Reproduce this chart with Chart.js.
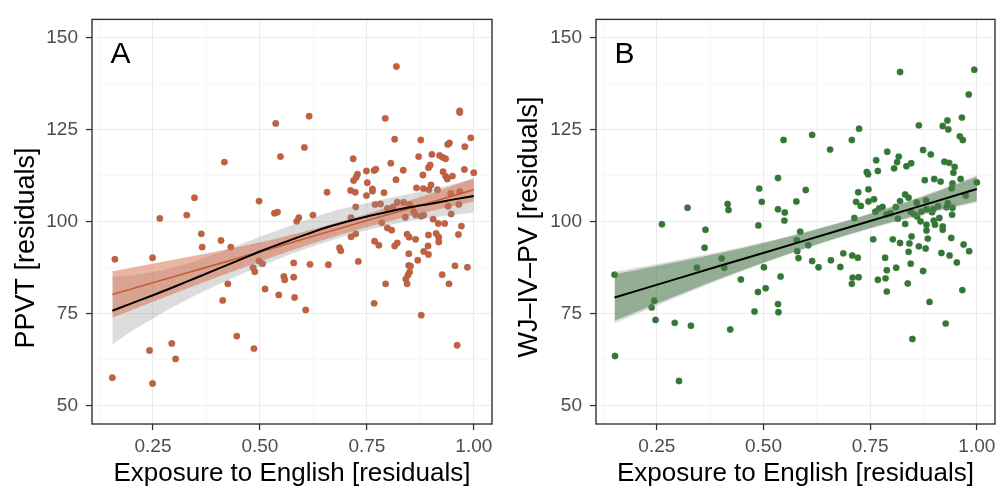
<!DOCTYPE html>
<html>
<head>
<meta charset="utf-8">
<script src="https://cdn.jsdelivr.net/npm/chart.js@4.4.1/dist/chart.umd.min.js"></script>
<style>
  body { margin: 0; background: #fff; width: 1005px; height: 489px; overflow: hidden; position: relative; }
  canvas { position: absolute; top: 0; }
  #chartA { left: 0; }
  #chartB { left: 502px; }
</style>
</head>
<body>
<canvas id="chartA" width="500" height="489"></canvas>
<canvas id="chartB" width="503" height="489"></canvas>
<script>
// panel A: PPVT vs exposure
const aX = [0.537,0.548,0.417,0.347,0.498,0.266,0.329,0.534,0.541,0.586,0.591,0.363,
  0.819,0.615,0.793,0.967,0.967,0.604,0.815,0.876,0.993,0.979,0.939,0.943,0.718,0.871,0.902,0.920,0.927,0.934,
  0.806,0.894,0.898,0.749,0.767,0.771,0.835,0.978,1.000,0.728,0.725,0.719,0.751,0.818,0.881,0.928,0.934,0.938,0.950,
  0.657,0.712,0.723,0.763,0.763,0.749,0.790,0.866,0.882,0.895,0.900,0.915,0.946,0.967,0.769,0.782,0.821,0.836,0.850,
  0.724,0.798,0.811,0.940,0.965,0.947,0.840,0.860,0.864,0.877,0.883,0.905,0.713,0.624,0.785,0.917,0.932,0.971,0.798,0.808,
  0.713,0.724,0.768,0.778,0.815,0.821,0.844,0.849,0.864,0.894,0.912,0.918,0.918,0.964,0.686,0.689,0.730,0.579,0.617,0.660,
  0.848,0.893,0.894,0.883,0.869,0.848,0.852,0.850,0.846,0.841,0.844,0.579,0.581,0.607,0.794,0.767,0.877,0.926,0.942,0.956,0.985,0.961,
  0.409,0.365,0.432,0.161,0.249,0.498,0.506,0.484,0.488,0.556,0.558,0.425,0.512,0.544,0.413,0.446,0.486,0.294,0.242,0.303,0.155,0.249];
const aY = [126.7,117.7,116.2,106.5,105.6,100.9,101.8,102.3,102.6,100.1,101.1,96.7,
  142.2,128.7,128.1,130.1,129.7,120.2,122.4,122.2,122.8,120.4,121.0,121.4,117.1,117.7,118.3,118.0,117.5,117.1,
  115.9,114.7,115.4,113.8,113.9,114.3,114.0,114.2,113.3,112.9,112.1,111.2,110.6,111.4,112.7,113.6,112.4,111.6,112.4,
  108.0,108.5,108.0,108.9,108.3,107.1,107.9,109.2,109.0,108.7,110.0,108.7,107.7,108.2,104.7,104.8,105.3,105.3,104.7,
  104.0,103.6,104.0,104.2,104.7,102.1,101.2,102.7,101.8,101.5,101.8,100.7,101.1,101.8,99.7,99.5,99.5,98.8,98.3,97.7,
  95.9,96.7,94.7,93.6,93.4,94.2,96.6,95.8,95.2,96.4,96.8,95.8,94.5,96.5,92.9,92.1,89.2,88.8,88.4,88.3,
  91.3,93.4,91.1,91.9,89.5,88.1,87.9,86.3,85.5,84.4,83.1,84.9,79.4,76.0,83.1,77.8,74.6,85.6,83.1,88.0,87.6,66.4,
  94.9,93.1,93.1,89.8,90.2,89.3,88.6,87.5,86.4,85.1,84.2,83.1,81.7,80.1,78.6,68.9,65.5,66.9,65.0,62.7,57.6,56.0];

// smooth (black) fit for A with its grey band
const aCurveX = [0.155,0.2,0.25,0.3,0.35,0.4,0.45,0.5,0.55,0.6,0.65,0.7,0.75,0.8,0.85,0.9,0.95,1.0];
const aCurveY = [75.8,77.8,80.0,82.3,84.7,87.1,89.5,91.9,94.1,96.2,98.2,99.9,101.4,102.7,103.9,104.9,106.0,107.0];
const aCurveLo = [66.6,70.2,73.7,77.0,80.0,82.8,85.4,87.9,90.2,92.3,94.3,96.1,97.7,99.0,100.2,101.1,101.8,102.5];
const aCurveHi = [85.0,85.4,86.3,87.6,89.4,91.4,93.6,95.9,98.0,100.1,102.1,103.7,105.1,106.4,107.6,108.7,110.2,111.5];

// linear (orange) fit for A
const aLinX = [0.155,0.3,0.45,0.6,0.75,0.9,1.0];
const aLinY = [80.2,85.1,90.1,95.2,100.3,105.3,108.7];
const aLinLo = [73.9,80.5,87.1,93.2,98.5,102.9,105.5];
const aLinHi = [86.5,89.7,93.1,97.2,102.1,107.7,111.9];

// panel B: WJ-IV-PV vs exposure
const bX = [0.547,0.534,0.490,0.496,0.322,0.416,0.418,0.534,0.550,0.549,0.577,0.262,0.364,0.488,
  0.820,0.994,0.981,0.965,0.864,0.920,0.931,0.933,0.960,0.967,0.614,0.724,0.707,0.656,0.790,0.817,0.813,0.874,0.892,
  0.764,0.768,0.742,0.745,0.806,0.835,0.846,0.924,0.935,0.948,0.945,0.599,0.878,0.900,0.915,0.962,1.000,0.943,0.941,
  0.722,0.746,0.717,0.728,0.746,0.759,0.832,0.840,0.820,0.859,0.881,0.974,0.932,0.943,0.909,0.898,0.882,0.929,
  0.762,0.771,0.779,0.788,0.798,0.810,0.815,0.845,0.853,0.860,0.870,0.895,0.912,0.713,0.942,0.832,0.868,0.882,0.899,0.902,
  0.920,0.920,0.882,0.586,
  0.578,0.579,0.582,0.605,0.614,0.629,0.658,0.680,0.687,0.708,0.721,0.709,0.707,0.723,0.757,0.785,0.789,0.811,0.768,0.786,
  0.789,0.803,0.820,0.847,0.842,0.840,0.845,0.838,0.864,0.880,0.885,0.874,0.889,0.927,0.849,0.917,0.936,0.940,0.953,0.969,0.982,0.966,
  0.362,0.402,0.408,0.344,0.151,0.501,0.540,0.447,0.505,0.487,0.244,0.238,0.247,0.292,0.330,0.422,0.479,0.534,0.535,0.152,0.302];
const bY = [122.2,111.9,109.0,105.4,103.8,104.8,103.2,103.4,102.5,100.3,105.5,99.3,97.8,99.0,
  140.7,141.3,134.6,128.3,126.2,126.0,127.5,125.1,123.2,122.2,123.6,125.3,122.2,119.6,119.0,117.7,116.2,119.5,118.3,
  116.7,113.8,113.5,112.9,114.5,115.1,115.9,116.3,116.0,114.9,113.3,108.6,111.3,111.6,110.9,111.6,110.7,110.4,109.1,
  108.0,108.8,105.4,104.3,105.5,106.1,107.4,106.5,105.6,105.2,105.8,107.1,105.0,103.8,104.2,103.4,103.4,103.9,
  102.7,103.6,104.0,102.0,102.3,104.0,100.8,102.7,102.0,101.4,102.7,102.6,101.0,101.0,101.9,99.4,100.1,99.2,100.3,99.2,
  98.7,97.8,97.6,97.3,
  95.0,92.0,90.1,93.6,89.3,87.6,89.5,87.7,91.4,90.8,90.2,84.8,83.1,84.9,95.2,90.2,86.8,87.5,84.2,84.6,
  81.0,95.2,94.2,96.0,94.1,91.8,88.6,83.2,93.3,92.7,95.4,86.6,78.2,72.3,68.1,91.5,90.8,95.6,88.9,93.8,92.0,81.4,
  92.9,90.0,87.5,87.5,85.6,87.6,85.1,84.3,81.9,80.9,78.5,76.7,73.3,72.5,71.7,70.7,75.6,77.6,75.4,63.5,56.7];

// linear fit for B: green band, grey band, black line
const bLinX = [0.151,0.3,0.45,0.6,0.75,0.9,1.0];
const bLinY = [79.4,84.6,89.8,95.0,100.2,105.4,108.9];
const bLinLo = [73.1,80.1,86.8,92.9,98.3,102.9,105.6];
const bLinHi = [85.7,89.1,92.8,97.1,102.1,107.9,112.2];
const bGreyLo = [72.4,79.6,86.5,92.7,98.1,102.6,105.2];
const bGreyHi = [86.4,89.6,93.1,97.3,102.3,108.2,112.6];

const xTicks = [0.25, 0.50, 0.75, 1.00];
const yTicks = [50, 75, 100, 125, 150];

const FONT = "'Liberation Sans', Arial, sans-serif";
const pts = (xs, ys) => xs.map((x, i) => ({ x, y: ys[i] }));
const isMajorX = v => xTicks.some(t => Math.abs(t - v) < 1e-6);
const isMajorY = v => yTicks.includes(v);

function line(xs, ys, color, width, order, extra) {
  return Object.assign({
    type: "line", data: pts(xs, ys), borderColor: color, borderWidth: width,
    pointRadius: 0, fill: false, cubicInterpolationMode: "monotone", order
  }, extra || {})
}

function decor(letter, yTitle, yTitleX, yTitleY) {
  return {
    id: "decor" + letter,
    afterDraw(chart) {
      const { ctx, chartArea: a } = chart
      ctx.save()
      ctx.strokeStyle = "#333333"
      ctx.lineWidth = 1.4
      ctx.strokeRect(a.left, a.top, a.right - a.left, a.bottom - a.top)
      ctx.fillStyle = "#000"
      ctx.font = "30px " + FONT
      ctx.textBaseline = "alphabetic"
      ctx.textAlign = "left"
      ctx.fillText(letter, a.left + 18.5, a.top + 43.5)
      ctx.font = "26px " + FONT
      ctx.textAlign = "center"
      ctx.fillText("Exposure to English [residuals]", (a.left + a.right) / 2, 481)
      ctx.translate(yTitleX, yTitleY)
      ctx.rotate(-Math.PI / 2)
      ctx.font = "27px " + FONT
      ctx.textBaseline = "middle"
      ctx.fillText(yTitle, 0, 0)
      ctx.restore()
    }
  }
}

function makeChart(id, datasets, leftWidth, rightPad, plugin) {
  return new Chart(document.getElementById(id), {
    type: "scatter",
    data: { datasets },
    options: {
      responsive: false,
      animation: false,
      layout: { padding: { top: 10, right: rightPad, left: 0, bottom: 0 } },
      plugins: { legend: { display: false }, tooltip: { enabled: false } },
      scales: {
        x: {
          type: "linear", min: 0.1075, max: 1.0425,
          afterFit: s => { s.height = 65 },
          border: { display: false },
          grid: {
            color: c => isMajorX(c.tick.value) ? "#ebebeb" : "#f3f3f3",
            lineWidth: c => isMajorX(c.tick.value) ? 1.1 : 0.6,
            tickLength: 6,
            tickColor: c => isMajorX(c.tick.value) ? "#333333" : "rgba(0,0,0,0)",
            tickWidth: 1.3
          },
          ticks: {
            stepSize: 0.125, includeBounds: false, autoSkip: false, maxRotation: 0,
            padding: 5, color: "#4d4d4d", font: { family: FONT, size: 19 },
            callback: v => isMajorX(v) ? v.toFixed(2) : ""
          }
        },
        y: {
          type: "linear", min: 45, max: 155,
          afterFit: s => { s.width = leftWidth },
          border: { display: false },
          grid: {
            color: c => isMajorY(c.tick.value) ? "#ebebeb" : "#f3f3f3",
            lineWidth: c => isMajorY(c.tick.value) ? 1.1 : 0.6,
            tickLength: 6,
            tickColor: c => isMajorY(c.tick.value) ? "#333333" : "rgba(0,0,0,0)",
            tickWidth: 1.3
          },
          ticks: {
            stepSize: 12.5, includeBounds: false, autoSkip: false,
            padding: 8, color: "#4d4d4d", font: { family: FONT, size: 19 },
            callback: v => isMajorY(v) ? String(v) : ""
          }
        }
      }
    },
    plugins: [plugin]
  })
}

const orange = "rgb(206, 92, 54)"
const green = "rgb(46, 122, 48)"

makeChart("chartA", [
  { data: pts(aX, aY), backgroundColor: orange, borderColor: "rgba(110,110,110,0.7)",
    borderWidth: 0.6, pointRadius: 3.2, order: 6 },
  line(aCurveX, aCurveLo, "rgba(0,0,0,0)", 0, 5),
  line(aCurveX, aCurveHi, "rgba(0,0,0,0)", 0, 5, { fill: "-1", backgroundColor: "rgba(150,150,150,0.33)" }),
  line(aLinX, aLinLo, "rgba(0,0,0,0)", 0, 4),
  line(aLinX, aLinHi, "rgba(0,0,0,0)", 0, 4, { fill: "-1", backgroundColor: "rgba(212,100,62,0.48)" }),
  line(aLinX, aLinY, "rgb(200, 92, 56)", 1.6, 2),
  line(aCurveX, aCurveY, "#000000", 2, 1)
], 92, 8, decor("A", "PPVT [residuals]", 26.5, 248))

makeChart("chartB", [
  { data: pts(bX, bY), backgroundColor: green, borderColor: "rgba(90,110,90,0.6)",
    borderWidth: 0.6, pointRadius: 3.2, order: 6 },
  line(bLinX, bGreyLo, "rgba(0,0,0,0)", 0, 5),
  line(bLinX, bGreyHi, "rgba(0,0,0,0)", 0, 5, { fill: "-1", backgroundColor: "rgba(150,150,150,0.33)" }),
  line(bLinX, bLinLo, "rgba(0,0,0,0)", 0, 4),
  line(bLinX, bLinHi, "rgba(0,0,0,0)", 0, 4, { fill: "-1", backgroundColor: "rgba(46,110,46,0.42)" }),
  line(bLinX, bLinY, "#000000", 2, 1)
], 94, 10, decor("B", "WJ\u2013IV\u2013PV [residuals]", 28, 227))
</script>
</body>
</html>
